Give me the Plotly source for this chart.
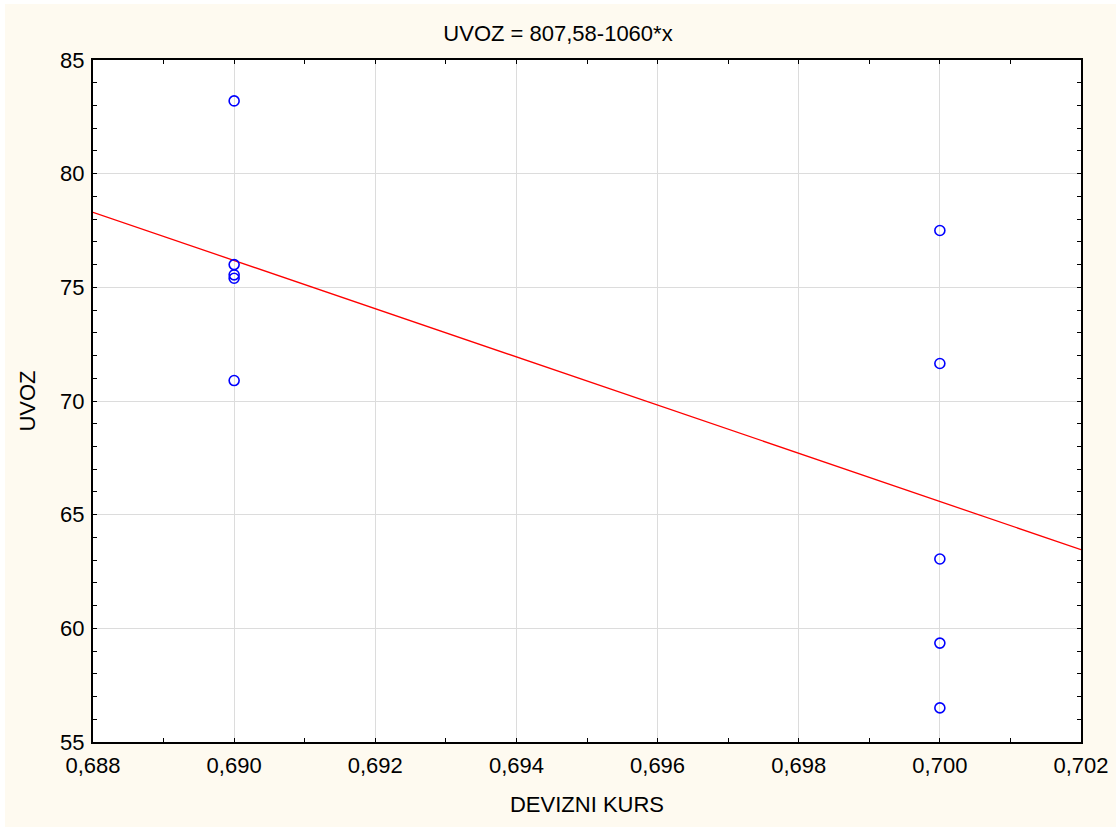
import plotly.graph_objects as go

# Data
devizni_kurs = [0.690, 0.690, 0.690, 0.690, 0.690,
                0.700, 0.700, 0.700, 0.700, 0.700]
uvoz = [83.2, 76.0, 75.55, 75.4, 70.9,
        77.5, 71.65, 63.05, 59.35, 56.5]

intercept = 807.58
slope = -1060.0
fit_x = [0.688, 0.702]
fit_y = [intercept + slope * v for v in fit_x]

x_ticks = [0.688, 0.690, 0.692, 0.694, 0.696, 0.698, 0.700, 0.702]
y_ticks = [55, 60, 65, 70, 75, 80, 85]

FONT = "Liberation Sans, Arial, sans-serif"
BEIGE = "#fefaf0"
FS = 22

fig = go.Figure()
fig.add_trace(go.Scatter(
    x=fit_x, y=fit_y, mode="lines",
    line=dict(color="#ff0000", width=1.3),
    showlegend=False, hoverinfo="skip"))
fig.add_trace(go.Scatter(
    x=devizni_kurs, y=uvoz, mode="markers",
    marker=dict(symbol="circle-open", size=10, color="#0000ff",
                line=dict(width=1.6, color="#0000ff")),
    showlegend=False))

axis_common = dict(
    showline=True, linecolor="black", linewidth=2, mirror="allticks",
    ticks="inside", ticklen=4, tickwidth=1, tickcolor="black",
    showgrid=True, gridcolor="#dcdcdc", gridwidth=1,
    zeroline=False, automargin=False,
    tickfont=dict(family=FONT, size=FS, color="black"),
)

fig.update_xaxes(
    range=[0.688, 0.702], tickvals=x_ticks, tickformat=".3f",
    ticklabelstandoff=3,
    minor=dict(dtick=0.001, tick0=0.688, ticks="inside", ticklen=4,
               tickcolor="black", showgrid=False),
    title=dict(text="DEVIZNI KURS", font=dict(family=FONT, size=FS, color="black"),
               standoff=19),
    **axis_common)
fig.update_yaxes(
    range=[55, 85], tickvals=y_ticks,
    ticklabelstandoff=2,
    minor=dict(dtick=1, tick0=55, ticks="inside", ticklen=4,
               tickcolor="black", showgrid=False),
    title=dict(text="UVOZ", font=dict(family=FONT, size=FS, color="black"),
               standoff=18),
    **axis_common)

fig.update_layout(
    width=1116, height=827,
    margin=dict(l=93, r=35, t=60, b=85),
    paper_bgcolor=BEIGE, plot_bgcolor="white",
    separators=",.",
    title=dict(text="UVOZ = 807,58-1060*x", x=0.5, xanchor="center",
               y=1 - 33 / 827, yanchor="middle", yref="container",
               font=dict(family=FONT, size=FS, color="black")),
    shapes=[
        dict(type="rect", xref="paper", yref="paper",
             x0=-93 / 988, x1=-88 / 988, y0=-0.2, y1=1.2,
             fillcolor="white", line=dict(width=0), layer="above"),
        dict(type="rect", xref="paper", yref="paper",
             x0=-0.2, x1=1.1, y0=1 + 56 / 682, y1=1 + 60 / 682,
             fillcolor="white", line=dict(width=0), layer="above"),
    ],
)

fig.write_html("out.html")
